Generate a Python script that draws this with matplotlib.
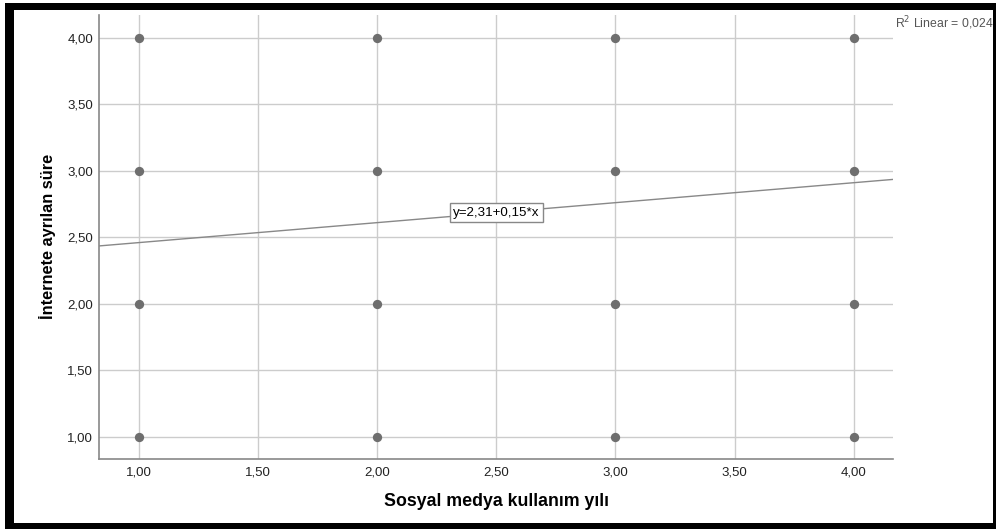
import numpy as np
import matplotlib.pyplot as plt
from matplotlib.patches import Rectangle

# scatter data (every combination is present in the picture)
sosyal_medya = [1, 1, 1, 1, 2, 2, 2, 2, 3, 3, 3, 3, 4, 4, 4, 4]
internet_sure = [1, 2, 3, 4, 1, 2, 3, 4, 1, 2, 3, 4, 1, 2, 3, 4]
# fit line
intercept = 2.31
slope = 0.15
r2 = "0,024"
ticks = [1.0, 1.5, 2.0, 2.5, 3.0, 3.5, 4.0]
tick_labels = ["1,00", "1,50", "2,00", "2,50", "3,00", "3,50", "4,00"]

plt.rcParams['font.family'] = ['Liberation Sans', 'DejaVu Sans']

W, H = 996, 529
fig = plt.figure(figsize=(W / 100, H / 100), dpi=100)
ax = fig.add_axes([98.7 / W, 1 - 459.3 / H, (893 - 98.7) / W, (459.3 - 15) / H])

xmin, xmax = 0.832, 4.165
ax.set_xlim(xmin, xmax)
ax.set_ylim(0.832, 4.17)

ax.set_xticks(ticks)
ax.set_xticklabels(tick_labels, fontsize=9.5)
ax.set_yticks(ticks)
ax.set_yticklabels(tick_labels, fontsize=9.5)
ax.tick_params(axis='x', length=0, pad=5, colors='#222222')
ax.tick_params(axis='y', length=0, pad=4, colors='#222222')
ax.grid(True, color='#cccccc', lw=1)
ax.set_axisbelow(True)

for s in ['top', 'right']:
    ax.spines[s].set_visible(False)
for s in ['left', 'bottom']:
    ax.spines[s].set_color('#888888')
    ax.spines[s].set_linewidth(1.2)

ax.scatter(sosyal_medya, internet_sure, s=45, color='#6e6e6e', zorder=3, linewidths=0)

xx = np.array([xmin, xmax])
ax.plot(xx, intercept + slope * xx, color='#888888', lw=1, zorder=2)
ax.text(2.5, intercept + slope * 2.5, "y=2,31+0,15*x", fontsize=9.6, ha='center', va='center',
        bbox=dict(boxstyle='square,pad=0.25', fc='white', ec='#888888', lw=1), zorder=4)

fig.text(0.5 * (383 + 610) / W, 1 - 502 / H, "Sosyal medya kullanım yılı", fontsize=12.8,
         fontweight='bold', ha='center', va='center')
fig.text(48 / W, 1 - 236 / H, "İnternete ayrılan süre", fontsize=11.8, fontweight='bold',
         rotation=90, ha='center', va='center')

fig.text(895 / W, 1 - 23 / H, "R$^2$ Linear = " + r2, fontsize=8.8, color='#555555',
         ha='left', va='center')

# black frame round the picture (pixel widths)
def band(x0, y0, x1, y1):
    fig.patches.append(Rectangle((x0 / W, 1 - y1 / H), (x1 - x0) / W, (y1 - y0) / H,
                                 transform=fig.transFigure, fc='black', ec='none', zorder=10))

band(5, 3, 14, 529)     # left
band(5, 3, 996, 10)     # top
band(5, 523, 996, 529)  # bottom
band(993, 3, 996, 529)  # right

fig.savefig("out.png", dpi=100)
